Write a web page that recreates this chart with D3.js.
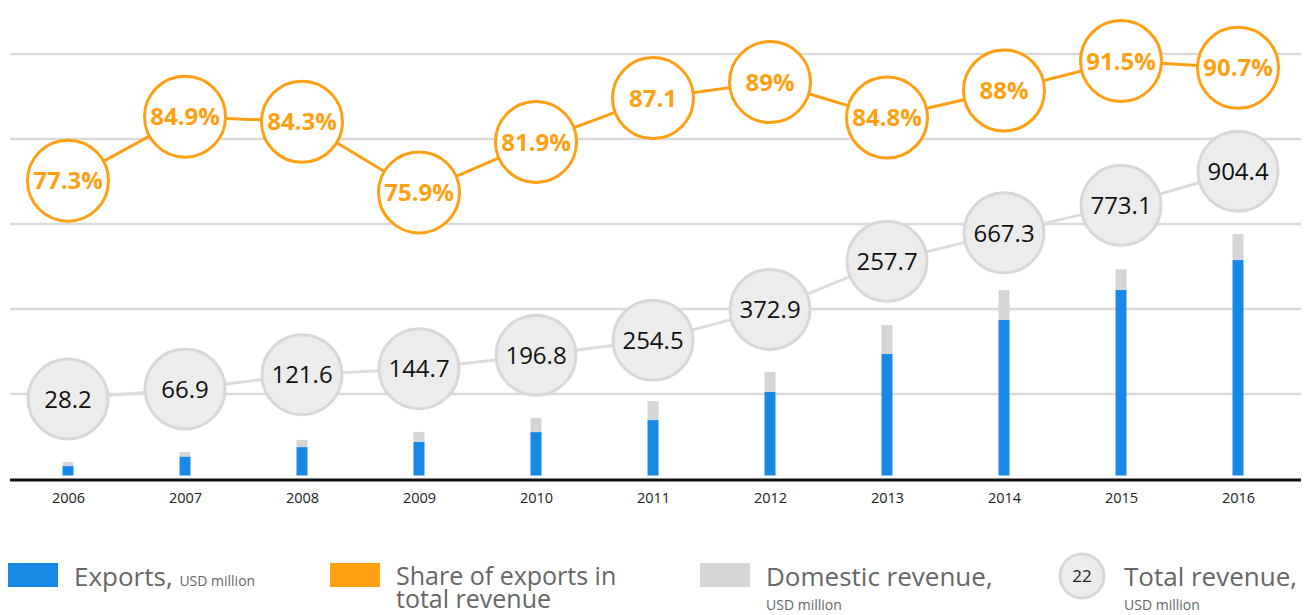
<!DOCTYPE html>
<html>
<head>
<meta charset="utf-8">
<script src="https://cdn.jsdelivr.net/npm/d3@7"></script>
<style>
  body { margin: 0; background: #fff; }
  svg { display: block; font-family: "Open Sans", "Noto Sans", sans-serif; }
</style>
</head>
<body>
<div id="chart"></div>
<script>
// data
const years = ["2006", "2007", "2008", "2009", "2010", "2011", "2012", "2013", "2014", "2015", "2016"];
const exports = [35, 70, 106, 125, 162, 207, 312, 454, 581, 693, 805];
const domestic = [15, 18, 27, 38, 53, 71, 75, 108, 112, 78, 97];
const exportShare = [77.3, 84.9, 84.3, 75.9, 81.9, 87.1, 89, 84.8, 88, 91.5, 90.7];
const shareLabels = ["77.3%", "84.9%", "84.3%", "75.9%", "81.9%", "87.1", "89%", "84.8%", "88%", "91.5%", "90.7%"];
// positions follow the circles; 2013 is printed as 257.7 but placed like ~557.7
const totalRevenue = [28.2, 66.9, 121.6, 144.7, 196.8, 254.5, 372.9, 557.7, 667.3, 773.1, 904.4];
const totalLabels = ["28.2", "66.9", "121.6", "144.7", "196.8", "254.5", "372.9", "257.7", "667.3", "773.1", "904.4"];
const gridTicks = [1, 2, 3, 4, 5];

const W = 1309, H = 615;
const BLUE = "#1888e6", ORANGE = "#ff9f12", LIGHT = "#d6d6d6";

const svg = d3.select("#chart").append("svg")
  .attr("width", W)
  .attr("height", H);

// scales
const x = d3.scalePoint().domain(years).range([68, 1238]);
const yGrid = d3.scaleLinear().domain([0, 5]).range([479, 54]);
const yBar = d3.scaleLinear().domain([0, 1000]).range([475.5, 207.9]);
const yTotal = d3.scaleLinear().domain([0, 1000]).range([406.3, 146.4]);
const yShare = d3.scaleLinear().domain([70, 95]).range([242.1, 31.6]);

// gridlines
svg.append("g").selectAll("line")
  .data(gridTicks)
  .join("line")
  .attr("x1", 10).attr("x2", 1301)
  .attr("y1", d => yGrid(d)).attr("y2", d => yGrid(d))
  .attr("stroke", "#dadada")
  .attr("stroke-width", 2.5);

// stacked bars
const rows = years.map((y, i) => ({ year: y, exp: exports[i], dom: domestic[i] }));
const barW = 11;
const bars = svg.append("g");
bars.selectAll(".dom")
  .data(rows)
  .join("rect")
  .attr("class", "dom")
  .attr("x", d => x(d.year) - barW / 2)
  .attr("width", barW)
  .attr("y", d => yBar(d.exp + d.dom))
  .attr("height", d => yBar(d.exp) - yBar(d.exp + d.dom))
  .attr("fill", LIGHT);
bars.selectAll(".exp")
  .data(rows)
  .join("rect")
  .attr("class", "exp")
  .attr("x", d => x(d.year) - barW / 2)
  .attr("width", barW)
  .attr("y", d => yBar(d.exp))
  .attr("height", d => yBar(0) - yBar(d.exp))
  .attr("fill", BLUE);

// baseline + year axis
svg.append("line")
  .attr("x1", 10).attr("x2", 1301)
  .attr("y1", 480).attr("y2", 480)
  .attr("stroke", "#111")
  .attr("stroke-width", 3);

const axis = svg.append("g")
  .attr("transform", "translate(0,480)")
  .call(d3.axisBottom(x).tickSize(0).tickPadding(13));
axis.select(".domain").remove();
axis.selectAll("text")
  .attr("font-size", 14.5)
  .attr("font-family", "'Open Sans', sans-serif")
  .attr("fill", "#222");

// total revenue line + circles
const totals = years.map((y, i) => ({ year: y, v: totalRevenue[i], label: totalLabels[i] }));
svg.append("path")
  .datum(totals)
  .attr("fill", "none")
  .attr("stroke", "#dcdcdc")
  .attr("stroke-width", 3)
  .attr("d", d3.line().x(d => x(d.year)).y(d => yTotal(d.v)));

const tg = svg.append("g").selectAll("g")
  .data(totals)
  .join("g")
  .attr("transform", d => `translate(${x(d.year)},${yTotal(d.v)})`);
tg.append("circle")
  .attr("r", 40)
  .attr("fill", "#ececec")
  .attr("stroke", "#d8d8d8")
  .attr("stroke-width", 3);
tg.append("text")
  .attr("text-anchor", "middle")
  .attr("dy", "0.36em")
  .attr("font-size", 24)
  .attr("fill", "#111")
  .text(d => d.label);

// share line + circles
const shares = years.map((y, i) => ({ year: y, v: exportShare[i], label: shareLabels[i] }));
svg.append("path")
  .datum(shares)
  .attr("fill", "none")
  .attr("stroke", ORANGE)
  .attr("stroke-width", 3)
  .attr("d", d3.line().x(d => x(d.year)).y(d => yShare(d.v)));

const sg = svg.append("g").selectAll("g")
  .data(shares)
  .join("g")
  .attr("transform", d => `translate(${x(d.year)},${yShare(d.v)})`);
sg.append("circle")
  .attr("r", 40.5)
  .attr("fill", "#fff")
  .attr("stroke", ORANGE)
  .attr("stroke-width", 3);
sg.append("text")
  .attr("text-anchor", "middle")
  .attr("dy", "0.36em")
  .attr("font-size", 24)
  .attr("font-weight", "bold")
  .attr("fill", ORANGE)
  .text(d => d.label);

// legend
const lg = svg.append("g").attr("fill", "#666");
function swatch(x0, color) {
  lg.append("rect").attr("x", x0).attr("y", 563).attr("width", 50).attr("height", 24).attr("fill", color);
}
swatch(8, BLUE);
swatch(330, ORANGE);
swatch(700, LIGHT);

const t1 = lg.append("text").attr("x", 74).attr("y", 586).attr("font-size", 26);
t1.append("tspan").text("Exports, ");
t1.append("tspan").attr("font-size", 14).text("USD million");

lg.append("text").attr("x", 396).attr("y", 585).attr("font-size", 25).text("Share of exports in");
lg.append("text").attr("x", 396).attr("y", 608).attr("font-size", 25).text("total revenue");

lg.append("text").attr("x", 766).attr("y", 586).attr("font-size", 26).text("Domestic revenue,");
lg.append("text").attr("x", 766).attr("y", 610).attr("font-size", 14).text("USD million");

lg.append("circle").attr("cx", 1082).attr("cy", 576).attr("r", 22)
  .attr("fill", "#ececec").attr("stroke", "#d8d8d8").attr("stroke-width", 3);
lg.append("text").attr("x", 1082).attr("y", 576).attr("dy", "0.36em")
  .attr("text-anchor", "middle").attr("font-size", 17).attr("fill", "#222").text("22");
lg.append("text").attr("x", 1124).attr("y", 586).attr("font-size", 26).text("Total revenue,");
lg.append("text").attr("x", 1124).attr("y", 610).attr("font-size", 14).text("USD million");
</script>
</body>
</html>
